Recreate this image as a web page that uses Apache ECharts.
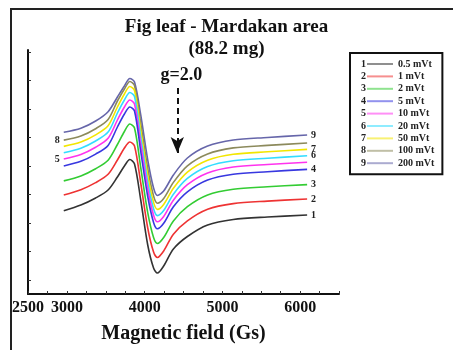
<!DOCTYPE html>
<html>
<head>
<meta charset="utf-8">
<script src="https://cdn.jsdelivr.net/npm/echarts@6/dist/echarts.min.js"></script>
<style>
  html, body { margin: 0; padding: 0; background: #fff; }
  #chart { width: 453px; height: 350px; }
</style>
</head>
<body>
<div id="chart"></div>
<script>
// magnetic field (Gs) sample points
var fieldGs = [2960, 3180, 3370, 3530, 3650, 3740, 3810, 3870, 3950, 4040, 4115, 4165, 4245, 4370, 4550, 4810, 5140, 5580, 6090];

// EPR signal, arbitrary units, one curve per microwave power
var s1 = [83.3, 89, 96, 104, 117, 128, 134.5, 130, 94, 49, 26, 21, 28, 45, 57.5, 69, 74.5, 77, 79];
var s2 = [99, 104.3, 111.4, 119.7, 134, 146, 152, 148, 111, 66, 42, 36.5, 43, 59.8, 73.2, 84.8, 90.4, 92.9, 95];
var s3 = [113.1, 118.1, 125.3, 133.8, 149.5, 162.5, 170, 166, 126.3, 81.3, 56.4, 50.5, 56.5, 73.1, 87.3, 99, 104.7, 107.2, 109.4];
var s4 = [128, 132.7, 139.9, 148.6, 167, 180, 187, 183, 142.5, 97.5, 71.6, 65.2, 70.7, 87.2, 102.2, 114, 119.8, 122.3, 124.6];
var s5 = [135, 139.6, 146.8, 155.7, 174, 187, 194, 190, 150.1, 105.1, 78.8, 72.2, 77.5, 93.8, 109.3, 121.1, 127, 129.5, 131.8];
var s6 = [141.3, 145.8, 153, 161.9, 181, 194, 201.5, 197.5, 156.9, 111.9, 85.2, 78.4, 83.5, 99.8, 115.6, 127.5, 133.3, 135.8, 138.2];
var s7 = [147.6, 151.9, 159.1, 168.2, 187, 200, 207.5, 203.5, 163.7, 118.7, 91.6, 84.6, 89.5, 105.7, 121.9, 133.8, 139.7, 142.2, 144.6];
var s8 = [153.9, 158, 165.3, 174.5, 193, 205, 212.5, 208.5, 170.5, 125.5, 98, 90.8, 95.5, 111.6, 128.2, 140.1, 146.1, 148.6, 151];
var s9 = [161.7, 165.7, 173, 182.3, 197, 208, 215.5, 212, 179, 134, 106, 98.5, 103, 119, 136, 148, 154, 156.5, 159];

var powers = ['0.5 mVt', '1 mVt', '2 mVt', '5 mVt', '10 mVt', '20 mVt', '50 mVt', '100 mVt', '200 mVt'];
var colors = ['#333333', '#ee3333', '#33cc33', '#3838e0', '#ff33ee', '#33ddff', '#f2e600', '#8c8a5c', '#6666aa'];
var xLabels = [2500, 3000, 4000, 5000, 6000];
var yTicks = [14, 42.5, 71, 99.5, 128, 156.5, 185, 213.5, 242];
var rightLabelled = [1, 2, 3, 4, 6, 7, 9];
var leftLabelled = [5, 8];

var gMark = 4420;   // g = 2.0 position
var gArrow = [206, 141];

var serif = '"Liberation Serif", "DejaVu Serif", serif';
var allData = [s1, s2, s3, s4, s5, s6, s7, s8, s9];

var series = allData.map(function (d, i) {
    var n = i + 1;
    var s = {
        name: powers[i],
        type: 'line',
        data: fieldGs.map(function (x, j) { return [x, d[j]]; }),
        symbol: 'none',
        smooth: 0.3,
        lineStyle: { color: colors[i], width: 1.6 },
        itemStyle: { color: colors[i] },
        z: 10 - i
    };
    if (rightLabelled.indexOf(n) >= 0) {
        s.endLabel = {
            show: true,
            formatter: String(n),
            distance: 4,
            color: '#222',
            fontFamily: serif,
            fontWeight: 'bold',
            fontSize: 10
        };
    }
    if (leftLabelled.indexOf(n) >= 0) {
        s.markPoint = {
            symbol: 'circle',
            symbolSize: 0,
            silent: true,
            data: [{ coord: [fieldGs[0], d[0]] }],
            label: {
                show: true,
                position: 'left',
                distance: 4,
                formatter: String(n),
                color: '#222',
                fontFamily: serif,
                fontWeight: 'bold',
                fontSize: 10
            }
        };
    }
    return s;
});

series[8].markLine = {
    silent: true,
    symbol: ['none', 'arrow'],
    symbolSize: [10, 16],
    lineStyle: { color: '#111', width: 2, type: [6, 4] },
    label: {
        show: true,
        position: 'start',
        distance: 4,
        formatter: 'g=2.0',
        padding: [0, 0, 0, 8],
        color: '#111',
        fontFamily: serif,
        fontWeight: 'bold',
        fontSize: 18
    },
    data: [[{ coord: [gMark, gArrow[0]] }, { coord: [gMark, gArrow[1]] }]]
};

var myChart = echarts.init(document.getElementById('chart'));
var option = {
    animation: false,
    backgroundColor: '#fff',
    title: {
        text: 'Fig leaf - Mardakan area\n(88.2 mg)',
        left: 'center',
        top: 11,
        textStyle: {
            fontFamily: serif,
            fontWeight: 'bold',
            fontSize: 19,
            lineHeight: 22,
            color: '#111'
        }
    },
    legend: [
        {
            orient: 'vertical',
            left: 350,
            top: 53,
            padding: [6, 8, 6, 17],
            icon: 'rect',
            itemWidth: 26,
            itemHeight: 2,
            itemGap: 2.4,
            borderColor: '#111',
            borderWidth: 2,
            selectedMode: false,
            itemStyle: { opacity: 0.55 },
            textStyle: { fontFamily: serif, fontWeight: 'bold', fontSize: 10, lineHeight: 10, color: '#222' },
            data: powers
        },
        {
            orient: 'vertical',
            left: 356,
            top: 59,
            padding: 0,
            itemWidth: 0,
            itemHeight: 10,
            itemGap: 2.4,
            icon: 'none',
            selectedMode: false,
            formatter: function (name) { return String(powers.indexOf(name) + 1); },
            textStyle: { fontFamily: serif, fontWeight: 'bold', fontSize: 10, lineHeight: 10, color: '#222' },
            data: powers
        }
    ],
    graphic: [{
        type: 'rect',
        shape: { x: 11, y: 9, width: 470, height: 370 },
        style: { fill: 'none', stroke: '#222', lineWidth: 2 },
        silent: true
    }],
    grid: { left: 28, right: 114, top: 50, bottom: 56 },
    xAxis: {
        type: 'value',
        min: 2500,
        max: 6500,
        interval: 250,
        name: 'Magnetic field (Gs)',
        nameLocation: 'middle',
        nameGap: 30,
        nameTextStyle: { fontFamily: serif, fontWeight: 'bold', fontSize: 20, color: '#111' },
        axisLine: { lineStyle: { color: '#111', width: 2 } },
        axisTick: { inside: true, length: 3, lineStyle: { color: '#333' } },
        axisLabel: {
            customValues: xLabels,
            formatter: function (v) { return String(v); },
            margin: 6,
            fontFamily: serif,
            fontWeight: 'bold',
            fontSize: 16,
            color: '#111'
        },
        splitLine: { show: false }
    },
    yAxis: {
        type: 'value',
        min: 0,
        max: 244,
        axisLine: { show: true, lineStyle: { color: '#111', width: 2 } },
        axisTick: { show: true, inside: true, length: 3, customValues: yTicks, lineStyle: { color: '#333' } },
        axisLabel: { show: false },
        splitLine: { show: false }
    },
    series: series
};
myChart.setOption(option);
</script>
</body>
</html>
